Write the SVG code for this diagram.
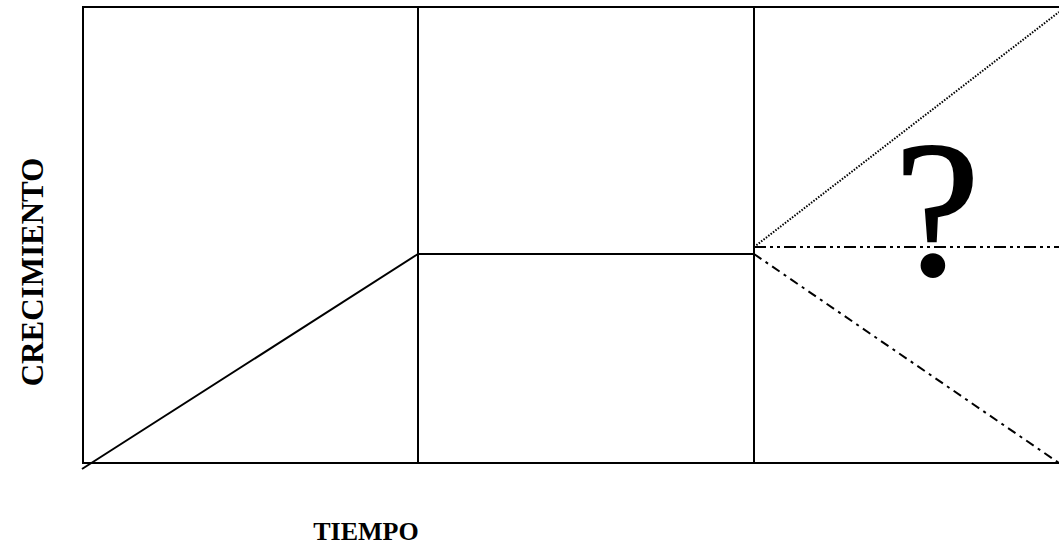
<svg xmlns="http://www.w3.org/2000/svg" width="1059" height="560" viewBox="0 0 1059 560">
<style>
.ln{stroke:#000;stroke-width:2;fill:none}
.lbl{font-family:"Liberation Serif","Times New Roman",serif;font-weight:bold;fill:#000}
.q{font-family:"Liberation Serif","Times New Roman",serif;fill:#000}
</style>
<rect width="1059" height="560" fill="#fff"/>
<g id="frame">
<line class="ln" x1="83" y1="7" x2="1059" y2="7"/>
<line class="ln" x1="83" y1="463" x2="1059" y2="463"/>
<line class="ln" x1="83" y1="6" x2="83" y2="464"/>
<line class="ln" x1="418" y1="7" x2="418" y2="463"/>
<line class="ln" x1="754" y1="7" x2="754" y2="463"/>
</g>
<g id="connectors">
<line class="ln" x1="82" y1="469" x2="418" y2="254"/>
<line class="ln" x1="418" y1="254" x2="754" y2="254"/>
<line class="ln" x1="754" y1="247" x2="1059" y2="12" stroke-width="1.5" stroke-dasharray="1.5 1.5"/>
<line class="ln" x1="754" y1="247" x2="1059" y2="247" stroke-dasharray="12 4 3 4 3 4"/>
<line class="ln" x1="754" y1="254" x2="1059" y2="463" stroke-dasharray="9 5 3 5"/>
</g>
<g id="question">
<text class="q" x="937" y="274" font-size="192" stroke="#000" stroke-width="2" text-anchor="middle">?</text>
</g>
<g id="ylabel">
<text class="lbl" x="0" y="0" font-size="31" text-anchor="middle" transform="translate(43,272) rotate(-90)">CRECIMIENTO</text>
</g>
<g id="xlabel">
<text class="lbl" x="366" y="540" font-size="26" text-anchor="middle">TIEMPO</text>
</g>
</svg>
